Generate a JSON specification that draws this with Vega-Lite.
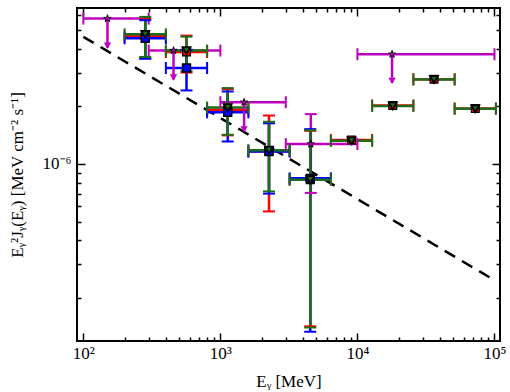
{
  "$schema": "https://vega.github.io/schema/vega-lite/v6.json",
  "width": 423,
  "height": 333,
  "autosize": "none",
  "padding": {"left": 77, "top": 8, "right": 10, "bottom": 51},
  "background": "white",
  "config": {
    "view": {"stroke": "black", "strokeWidth": 2},
    "font": "Liberation Serif",
    "axis": {
      "domain": false,
      "grid": false,
      "tickColor": "black",
      "tickWidth": 1.5,
      "labelOverlap": false,
      "labelFlush": false
    }
  },
  "datasets": {
    "pts": [
      {"s": "m", "e": 150, "lo": 100, "hi": 300, "f": 5.74e-6, "tip": 4.04e-6},
      {"s": "m", "e": 455, "lo": 300, "hi": 1000, "f": 3.91e-6, "tip": 2.76e-6},
      {"s": "m", "e": 1490, "lo": 1000, "hi": 3000, "f": 2.10e-6, "tip": 1.48e-6},
      {"s": "m", "e": 4570, "lo": 3000, "hi": 10000, "f": 1.27e-6, "fl": 0.706e-6, "fh": 1.82e-6},
      {"s": "m", "e": 17900, "lo": 10000, "hi": 100000, "f": 3.74e-6, "tip": 2.65e-6},

      {"s": "r", "e": 283, "lo": 200, "hi": 400, "f": 4.64e-6, "fl": 3.57e-6, "fh": 5.74e-6},
      {"s": "r", "e": 566, "lo": 400, "hi": 800, "f": 3.84e-6, "fl": 3.0e-6, "fh": 4.68e-6},
      {"s": "r", "e": 1131, "lo": 800, "hi": 1600, "f": 1.92e-6, "fl": 1.41e-6, "fh": 2.46e-6},
      {"s": "r", "e": 2263, "lo": 1600, "hi": 3200, "f": 1.166e-6, "fl": 0.565e-6, "fh": 1.79e-6},
      {"s": "r", "e": 4525, "lo": 3200, "hi": 6400, "f": 0.828e-6, "fl": 0.142e-6, "fh": 1.49e-6},
      {"s": "r", "e": 9051, "lo": 6400, "hi": 12800, "f": 1.335e-6},
      {"s": "r", "e": 18102, "lo": 12800, "hi": 25600, "f": 2.02e-6},
      {"s": "r", "e": 36204, "lo": 25600, "hi": 51200, "f": 2.77e-6},
      {"s": "r", "e": 72408, "lo": 51200, "hi": 102400, "f": 1.95e-6},

      {"s": "b", "e": 283, "lo": 200, "hi": 400, "f": 4.53e-6, "fl": 3.54e-6, "fh": 5.63e-6},
      {"s": "b", "e": 566, "lo": 400, "hi": 800, "f": 3.17e-6, "fl": 2.42e-6, "fh": 3.95e-6},
      {"s": "b", "e": 1131, "lo": 800, "hi": 1600, "f": 1.86e-6, "fl": 1.31e-6, "fh": 2.39e-6},
      {"s": "b", "e": 2263, "lo": 1600, "hi": 3200, "f": 1.16e-6, "fl": 0.70e-6, "fh": 1.63e-6},
      {"s": "b", "e": 4525, "lo": 3200, "hi": 6400, "f": 0.841e-6, "fl": 0.133e-6, "fh": 1.52e-6},

      {"s": "g", "e": 283, "lo": 200, "hi": 400, "f": 4.75e-6, "fl": 3.62e-6, "fh": 5.86e-6},
      {"s": "g", "e": 566, "lo": 400, "hi": 800, "f": 3.91e-6, "fl": 3.05e-6, "fh": 4.62e-6},
      {"s": "g", "e": 1131, "lo": 800, "hi": 1600, "f": 1.97e-6, "fl": 1.42e-6, "fh": 2.49e-6},
      {"s": "g", "e": 2263, "lo": 1600, "hi": 3200, "f": 1.18e-6, "fl": 0.719e-6, "fh": 1.66e-6},
      {"s": "g", "e": 4525, "lo": 3200, "hi": 6400, "f": 0.828e-6, "fl": 0.14e-6, "fh": 1.50e-6},
      {"s": "g", "e": 9051, "lo": 6400, "hi": 12800, "f": 1.32e-6},
      {"s": "g", "e": 18102, "lo": 12800, "hi": 25600, "f": 2.01e-6},
      {"s": "g", "e": 36204, "lo": 25600, "hi": 51200, "f": 2.76e-6},
      {"s": "g", "e": 72408, "lo": 51200, "hi": 102400, "f": 1.94e-6}
    ],
    "model": [
      {"e": 100, "f": 4.61e-6},
      {"e": 100000, "f": 2.47e-7}
    ]
  },
  "data": {"name": "pts"},
  "resolve": {"axis": {"x": "independent", "y": "independent"}},
  "layer": [
    {
      "data": {"name": "model"},
      "mark": {"type": "line", "color": "black", "strokeWidth": 2.5, "strokeDash": [12, 8], "clip": true},
      "encoding": {
        "x": {
          "field": "e", "type": "quantitative",
          "scale": {"type": "log", "domain": [89.9, 109700], "nice": false},
          "axis": {
            "orient": "bottom",
            "title": "Eᵧ [MeV]",
            "titleFont": "Liberation Serif",
            "titleFontSize": 17,
            "titleFontWeight": "normal",
            "titleColor": "black",
            "titlePadding": 8,
            "labelFont": "Liberation Serif",
            "labelFontSize": 17,
            "labelColor": "black",
            "labelPadding": 12,
            "values": [100, 200, 300, 400, 500, 600, 700, 800, 900, 1000, 2000, 3000, 4000, 5000, 6000, 7000, 8000, 9000, 10000, 20000, 30000, 40000, 50000, 60000, 70000, 80000, 90000, 100000],
            "labelExpr": "datum.value == 100 ? '10²' : datum.value == 1000 ? '10³' : datum.value == 10000 ? '10⁴' : datum.value == 100000 ? '10⁵' : ''",
            "tickSize": {"condition": {"test": "datum.value == 100 || datum.value == 1000 || datum.value == 10000 || datum.value == 100000", "value": -8}, "value": -4}
          }
        },
        "y": {
          "field": "f", "type": "quantitative",
          "scale": {"type": "log", "domain": [1.19e-7, 6.52e-6], "nice": false},
          "axis": {
            "orient": "left",
            "title": "Eᵧ²Jᵧ(Eᵧ) [MeV cm⁻² s⁻¹]",
            "titleFont": "Liberation Serif",
            "titleFontSize": 17,
            "titleFontWeight": "normal",
            "titleColor": "black",
            "titlePadding": 16,
            "labelFont": "Liberation Serif",
            "labelFontSize": 17,
            "labelColor": "black",
            "labelPadding": 14,
            "values": [2e-7, 3e-7, 4e-7, 5e-7, 6e-7, 7e-7, 8e-7, 9e-7, 0.000001, 2e-6, 3e-6, 4e-6, 5e-6, 6e-6],
            "labelExpr": "datum.value == 0.000001 ? '10⁻⁶' : ''",
            "tickSize": {"condition": {"test": "datum.value == 0.000001", "value": -8}, "value": -4}
          }
        }
      }
    },
    {
      "mark": {"type": "rule", "strokeWidth": 2.5},
      "encoding": {
        "x": {"field": "lo", "type": "quantitative", "scale": {"type": "log", "domain": [89.9, 109700], "nice": false}, "axis": null},
        "x2": {"field": "hi"},
        "y": {"field": "f", "type": "quantitative", "scale": {"type": "log", "domain": [1.19e-7, 6.52e-6], "nice": false}, "axis": null},
        "color": {"field": "s", "type": "nominal", "scale": {"domain": ["m", "r", "b", "g"], "range": ["#bf00bf", "#ff0000", "#0000ff", "#1a701a"]}, "legend": null}
      }
    },
    {
      "transform": [{"filter": "isValid(datum.fl)"}],
      "mark": {"type": "rule", "strokeWidth": 2.5},
      "encoding": {
        "x": {"field": "e", "type": "quantitative", "scale": {"type": "log", "domain": [89.9, 109700], "nice": false}, "axis": null},
        "y": {"field": "fl", "type": "quantitative", "scale": {"type": "log", "domain": [1.19e-7, 6.52e-6], "nice": false}, "axis": null},
        "y2": {"field": "fh"},
        "color": {"field": "s", "type": "nominal", "scale": {"domain": ["m", "r", "b", "g"], "range": ["#bf00bf", "#ff0000", "#0000ff", "#1a701a"]}, "legend": null}
      }
    },
    {
      "mark": {"type": "point", "shape": "M0,-1V1", "filled": false, "size": 144, "strokeWidth": 2, "opacity": 1},
      "encoding": {
        "x": {"field": "lo", "type": "quantitative", "scale": {"type": "log", "domain": [89.9, 109700], "nice": false}, "axis": null},
        "y": {"field": "f", "type": "quantitative", "scale": {"type": "log", "domain": [1.19e-7, 6.52e-6], "nice": false}, "axis": null},
        "color": {"field": "s", "type": "nominal", "scale": {"domain": ["m", "r", "b", "g"], "range": ["#bf00bf", "#ff0000", "#0000ff", "#1a701a"]}, "legend": null}
      }
    },
    {
      "mark": {"type": "point", "shape": "M0,-1V1", "filled": false, "size": 144, "strokeWidth": 2, "opacity": 1},
      "encoding": {
        "x": {"field": "hi", "type": "quantitative", "scale": {"type": "log", "domain": [89.9, 109700], "nice": false}, "axis": null},
        "y": {"field": "f", "type": "quantitative", "scale": {"type": "log", "domain": [1.19e-7, 6.52e-6], "nice": false}, "axis": null},
        "color": {"field": "s", "type": "nominal", "scale": {"domain": ["m", "r", "b", "g"], "range": ["#bf00bf", "#ff0000", "#0000ff", "#1a701a"]}, "legend": null}
      }
    },
    {
      "transform": [{"filter": "isValid(datum.fl)"}],
      "mark": {"type": "point", "shape": "M-1,0H1", "filled": false, "size": 144, "strokeWidth": 2, "opacity": 1},
      "encoding": {
        "x": {"field": "e", "type": "quantitative", "scale": {"type": "log", "domain": [89.9, 109700], "nice": false}, "axis": null},
        "y": {"field": "fl", "type": "quantitative", "scale": {"type": "log", "domain": [1.19e-7, 6.52e-6], "nice": false}, "axis": null},
        "color": {"field": "s", "type": "nominal", "scale": {"domain": ["m", "r", "b", "g"], "range": ["#bf00bf", "#ff0000", "#0000ff", "#1a701a"]}, "legend": null}
      }
    },
    {
      "transform": [{"filter": "isValid(datum.fh)"}],
      "mark": {"type": "point", "shape": "M-1,0H1", "filled": false, "size": 144, "strokeWidth": 2, "opacity": 1},
      "encoding": {
        "x": {"field": "e", "type": "quantitative", "scale": {"type": "log", "domain": [89.9, 109700], "nice": false}, "axis": null},
        "y": {"field": "fh", "type": "quantitative", "scale": {"type": "log", "domain": [1.19e-7, 6.52e-6], "nice": false}, "axis": null},
        "color": {"field": "s", "type": "nominal", "scale": {"domain": ["m", "r", "b", "g"], "range": ["#bf00bf", "#ff0000", "#0000ff", "#1a701a"]}, "legend": null}
      }
    },
    {
      "transform": [{"filter": "isValid(datum.tip)"}],
      "mark": {"type": "rule", "strokeWidth": 2.5, "color": "#bf00bf"},
      "encoding": {
        "x": {"field": "e", "type": "quantitative", "scale": {"type": "log", "domain": [89.9, 109700], "nice": false}, "axis": null},
        "y": {"field": "f", "type": "quantitative", "scale": {"type": "log", "domain": [1.19e-7, 6.52e-6], "nice": false}, "axis": null},
        "y2": {"field": "tip"}
      }
    },
    {
      "transform": [{"filter": "isValid(datum.tip)"}],
      "mark": {"type": "point", "shape": "triangle-down", "filled": true, "size": 55, "color": "#bf00bf", "opacity": 1, "yOffset": -2},
      "encoding": {
        "x": {"field": "e", "type": "quantitative", "scale": {"type": "log", "domain": [89.9, 109700], "nice": false}, "axis": null},
        "y": {"field": "tip", "type": "quantitative", "scale": {"type": "log", "domain": [1.19e-7, 6.52e-6], "nice": false}, "axis": null}
      }
    },
    {
      "mark": {"type": "point", "filled": true, "stroke": "black", "opacity": 1},
      "encoding": {
        "x": {
          "field": "e", "type": "quantitative",
          "scale": {"type": "log", "domain": [89.9, 109700], "nice": false},
          "axis": {
            "orient": "top", "title": null, "labels": false,
            "values": [100, 200, 300, 400, 500, 600, 700, 800, 900, 1000, 2000, 3000, 4000, 5000, 6000, 7000, 8000, 9000, 10000, 20000, 30000, 40000, 50000, 60000, 70000, 80000, 90000, 100000],
            "tickSize": {"condition": {"test": "datum.value == 100 || datum.value == 1000 || datum.value == 10000 || datum.value == 100000", "value": -8}, "value": -4}
          }
        },
        "y": {
          "field": "f", "type": "quantitative",
          "scale": {"type": "log", "domain": [1.19e-7, 6.52e-6], "nice": false},
          "axis": {
            "orient": "right", "title": null, "labels": false,
            "values": [2e-7, 3e-7, 4e-7, 5e-7, 6e-7, 7e-7, 8e-7, 9e-7, 0.000001, 2e-6, 3e-6, 4e-6, 5e-6, 6e-6],
            "tickSize": {"condition": {"test": "datum.value == 0.000001", "value": -8}, "value": -4}
          }
        },
        "color": {"field": "s", "type": "nominal", "scale": {"domain": ["m", "r", "b", "g"], "range": ["#bf00bf", "#ff0000", "#0000ff", "#1a701a"]}, "legend": null},
        "shape": {"field": "s", "type": "nominal", "scale": {"domain": ["m", "r", "b", "g"], "range": ["M0,-1L0.2245,-0.309L0.951,-0.309L0.363,0.118L0.588,0.809L0,0.382L-0.588,0.809L-0.363,0.118L-0.951,-0.309L-0.2245,-0.309Z", "square", "square", "triangle-down"]}, "legend": null},
        "size": {"field": "s", "type": "nominal", "scale": {"domain": ["m", "r", "b", "g"], "range": [60, 64, 64, 30]}, "legend": null},
        "strokeWidth": {"field": "s", "type": "nominal", "scale": {"domain": ["m", "r", "b", "g"], "range": [0.9, 1.8, 1.8, 1]}, "legend": null}
      }
    }
  ]
}
